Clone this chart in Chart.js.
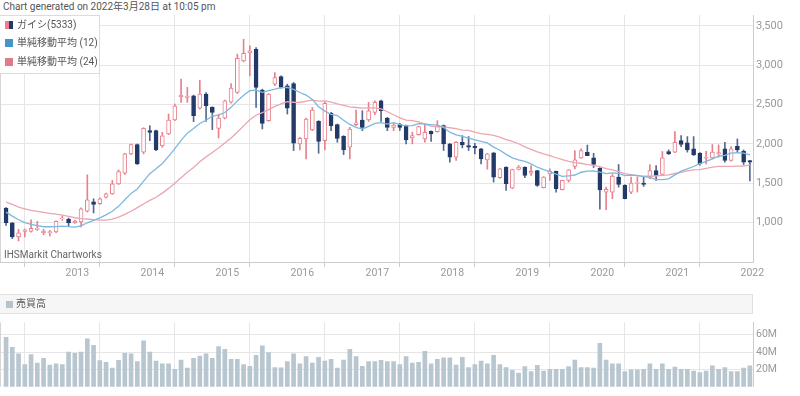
<!DOCTYPE html>
<html>
<head>
<meta charset="utf-8">
<script src="https://cdn.jsdelivr.net/npm/chart.js@4.4.0/dist/chart.umd.min.js"></script>
<style>
  body { margin: 0; width: 800px; height: 396px; overflow: hidden; background: #fff; position: relative;
         font-family: Roboto, "Noto Sans CJK JP", sans-serif; color: #555; }
  #title { position: absolute; left: 3px; top: 0; font-size: 10px; line-height: 13px; color: #555; }
  #mainBox { position: absolute; left: 0; top: 0; width: 800px; height: 290px; }
  #volBox { position: absolute; left: 0; top: 313px; width: 800px; height: 83px; }
  #legend { position: absolute; left: 0; top: 15px; width: 99px; height: 57px; background: rgba(255,255,255,0.94);
            border: 1px solid #dcdcdc; border-left: none; font-size: 10px; color: #555; }
  #legend .row { position: absolute; left: 5px; height: 12px; line-height: 12px; white-space: nowrap; }
  #legend .ico { display: inline-block; width: 8px; height: 8px; vertical-align: -1px; margin-right: 4px; }
  #credit { position: absolute; left: 4px; top: 249px; font-size: 10px; line-height: 12px; color: #666; }
  #volHead { position: absolute; left: 0; top: 294px; width: 752px; height: 18px; background: #f6f6f6;
             border: 1px solid #e0e0e0; border-left: none; font-size: 10px; color: #555; }
  #volHead .ico { position: absolute; left: 6px; top: 6px; width: 7px; height: 7px; background: #b5c3cd; }
  #volHead span.t { position: absolute; left: 16px; top: 3px; line-height: 12px; }
</style>
</head>
<body>
<div id="title">Chart generated on 2022年3月28日 at 10:05 pm</div>
<div id="mainBox"><canvas id="mainChart" width="800" height="290"></canvas></div>
<div id="legend">
  <div class="row" style="top:3px"><span class="ico" style="width:4px;background:#e8808e;margin-right:0"></span><span class="ico" style="width:4px;background:#233a68"></span>ガイシ(5333)</div>
  <div class="row" style="top:21px"><span class="ico" style="background:#4596c8"></span>単純移動平均 (12)</div>
  <div class="row" style="top:40px"><span class="ico" style="background:#e07b8c"></span>単純移動平均 (24)</div>
</div>
<div id="credit">IHSMarkit Chartworks</div>
<div id="volHead"><div class="ico"></div><span class="t">売買高</span></div>
<div id="volBox"><canvas id="volChart" width="800" height="83"></canvas></div>

<script>
// monthly candles, Apr 2012 .. Mar 2022
const startYear = 2012;
const startMonth = 4;

const opens = [1185, 999, 818, 889, 889, 915, 868, 872, 881, 1050, 1046, 995,
  1008, 1147, 1265, 1240, 1324, 1366, 1493, 1628, 1873, 1991, 1894, 2168,
  2168, 1974, 2126, 2303, 2598, 2590, 2611, 2455, 2632, 2463, 2198, 2328,
  2531, 2653, 3054, 3155, 3202, 2683, 2295, 2759, 2856, 2738, 2767, 1999,
  2063, 2176, 2286, 2041, 2387, 2244, 2096, 1957, 2244, 2303, 2303, 2400,
  2548, 2328, 2210, 2244, 2232, 2076, 2118, 2063, 2160, 2156, 2232, 2000,
  1831, 2021, 1979, 1970, 1937, 1797, 1886, 1570, 1705, 1439, 1675, 1705,
  1629, 1662, 1443, 1620, 1650, 1418, 1536, 1713, 1823, 1893, 1823, 1690,
  1388, 1388, 1578, 1477, 1388, 1498, 1502, 1578, 1662, 1612, 1903, 1895,
  2042, 2013, 1937, 1882, 1818, 1823, 1873, 1937, 1789, 1970, 1907, 1789];

const highs = [1190, 1000, 915, 919, 1037, 1016, 915, 902, 1024, 1088, 1058, 1030,
  1189, 1607, 1303, 1316, 1375, 1535, 1670, 1881, 1999, 1999, 2206, 2231,
  2176, 2147, 2379, 2506, 2822, 2717, 2620, 2809, 2653, 2472, 2379, 2556,
  2767, 3139, 3329, 3244, 3223, 2695, 2640, 2907, 2864, 2759, 2780, 2084,
  2328, 2463, 2295, 2527, 2400, 2252, 2105, 2210, 2430, 2421, 2527, 2548,
  2556, 2337, 2261, 2260, 2240, 2148, 2225, 2253, 2165, 2295, 2240, 2005,
  2030, 2105, 2093, 2008, 1945, 1880, 1890, 1690, 1710, 1680, 1726, 1710,
  1726, 1665, 1585, 1683, 1655, 1540, 1675, 1916, 1937, 1985, 1880, 1700,
  1451, 1612, 1738, 1480, 1578, 1578, 1578, 1738, 1726, 1903, 1924, 2156,
  2105, 2093, 2093, 1890, 1907, 1992, 1987, 2021, 1966, 2063, 1924, 1790];

const lows = [965, 797, 767, 818, 880, 902, 847, 830, 872, 1029, 953, 990,
  944, 1134, 1122, 1231, 1312, 1358, 1484, 1611, 1864, 1738, 1873, 2041,
  1915, 1957, 2117, 2295, 2527, 2527, 2282, 2442, 2286, 2181, 2075, 2316,
  2518, 2640, 3042, 2864, 2463, 2189, 2286, 2738, 2708, 2379, 1915, 1923,
  1809, 2168, 1881, 1923, 2168, 2021, 1864, 1809, 2231, 2168, 2286, 2371,
  2286, 2168, 2168, 2170, 2000, 2000, 2110, 2021, 2030, 2148, 1916, 1768,
  1789, 1949, 1916, 1873, 1747, 1679, 1515, 1560, 1409, 1430, 1670, 1570,
  1599, 1460, 1440, 1536, 1388, 1415, 1515, 1683, 1815, 1850, 1700, 1170,
  1164, 1304, 1451, 1300, 1367, 1388, 1460, 1557, 1536, 1599, 1865, 1890,
  1966, 1895, 1852, 1730, 1747, 1810, 1831, 1768, 1780, 1895, 1738, 1530];

const closes = [999, 818, 872, 910, 927, 932, 894, 885, 1016, 1058, 999, 1020,
  1176, 1290, 1231, 1303, 1366, 1493, 1649, 1873, 1991, 1746, 2197, 2147,
  1923, 2101, 2303, 2480, 2619, 2607, 2358, 2632, 2484, 2400, 2328, 2548,
  2708, 3088, 3151, 3181, 2717, 2261, 2632, 2843, 2717, 2455, 2008, 2071,
  2316, 2430, 2033, 2514, 2231, 2071, 1923, 2189, 2269, 2210, 2421, 2527,
  2421, 2210, 2240, 2210, 2051, 2106, 2219, 2148, 2127, 2224, 2000, 1831,
  2021, 1987, 1958, 1949, 1810, 1873, 1578, 1683, 1494, 1675, 1705, 1599,
  1650, 1472, 1578, 1650, 1430, 1536, 1671, 1797, 1916, 1852, 1740, 1415,
  1422, 1591, 1485, 1304, 1502, 1510, 1485, 1662, 1599, 1823, 1873, 2021,
  1992, 1924, 1861, 1747, 1831, 1895, 1890, 1789, 1937, 1924, 1768, 1768];

const sma12 = [1134, 1083, 1037, 999, 978, 961, 948, 948, 950, 955, 950, 944,
  959, 998, 1028, 1061, 1098, 1144, 1207, 1290, 1371, 1428, 1528, 1622,
  1684, 1752, 1841, 1939, 2044, 2136, 2195, 2259, 2300, 2354, 2365, 2399,
  2464, 2546, 2617, 2675, 2684, 2655, 2678, 2695, 2715, 2719, 2692, 2653,
  2620, 2565, 2472, 2416, 2376, 2360, 2301, 2247, 2209, 2189, 2223, 2261,
  2270, 2252, 2269, 2244, 2229, 2231, 2256, 2253, 2241, 2242, 2207, 2149,
  2116, 2097, 2074, 2052, 2032, 2012, 1959, 1920, 1867, 1822, 1797, 1778,
  1747, 1704, 1672, 1647, 1616, 1588, 1595, 1605, 1640, 1655, 1658, 1642,
  1623, 1633, 1625, 1597, 1603, 1600, 1585, 1574, 1547, 1545, 1556, 1606,
  1654, 1682, 1713, 1750, 1777, 1809, 1843, 1854, 1882, 1890, 1882, 1861];

const sma24 = [1261, 1231, 1197, 1176, 1155, 1143, 1130, 1117, 1109, 1096, 1079, 1062,
  1050, 1046, 1037, 1033, 1033, 1045, 1070, 1105, 1145, 1190, 1237, 1283,
  1322, 1375, 1435, 1500, 1571, 1640, 1701, 1774, 1835, 1891, 1947, 2010,
  2074, 2149, 2229, 2307, 2364, 2396, 2436, 2477, 2507, 2537, 2529, 2526,
  2542, 2556, 2544, 2546, 2530, 2507, 2489, 2471, 2462, 2454, 2458, 2457,
  2445, 2408, 2370, 2330, 2302, 2296, 2279, 2250, 2225, 2215, 2215, 2205,
  2193, 2174, 2171, 2148, 2130, 2122, 2107, 2086, 2054, 2032, 2002, 1963,
  1931, 1900, 1873, 1850, 1824, 1800, 1777, 1762, 1754, 1738, 1727, 1710,
  1685, 1669, 1649, 1622, 1609, 1594, 1590, 1589, 1594, 1600, 1607, 1624,
  1639, 1657, 1669, 1673, 1690, 1705, 1714, 1714, 1715, 1718, 1719, 1733];

// 売買高, millions of shares
const volumes = [57.0, 45.6, 38.0, 25.7, 37.1, 27.2, 32.7, 25.0, 26.6, 25.7, 40.1, 38.6,
  40.1, 55.5, 47.8, 30.3, 28.1, 21.4, 30.6, 38.6, 38.0, 29.1, 53.0, 40.1,
  29.7, 26.6, 26.6, 20.1, 30.9, 21.4, 32.7, 35.5, 38.0, 32.7, 46.3, 43.2,
  31.8, 31.8, 25.7, 23.5, 36.4, 47.2, 39.5, 22.0, 21.7, 29.1, 38.0, 26.6,
  34.8, 27.2, 33.9, 29.7, 31.8, 21.4, 30.9, 43.2, 34.8, 23.5, 29.1, 29.1,
  30.6, 29.1, 29.1, 25.5, 34.8, 27.2, 28.1, 41.0, 26.6, 31.8, 33.3, 33.3,
  25.0, 33.9, 22.0, 25.7, 29.7, 26.6, 36.4, 25.7, 22.0, 18.9, 15.8, 23.2,
  17.4, 24.7, 18.0, 20.1, 20.1, 20.1, 23.2, 30.9, 22.0, 22.0, 21.4, 50.2,
  30.9, 26.6, 26.6, 17.4, 19.5, 19.5, 20.1, 26.6, 20.1, 26.6, 20.1, 22.6,
  20.1, 20.1, 18.0, 16.4, 18.0, 24.1, 20.1, 22.0, 17.4, 17.4, 21.4, 24.1];

const priceTicks = [1000, 1500, 2000, 2500, 3000, 3500];
const volumeTicks = [20, 40, 60];

// month labels like 2012-04
const months = [];
for (let i = 0; i < closes.length; i++) {
    const m = startMonth - 1 + i;
    const y = startYear + Math.floor(m / 12);
    months.push(y + '-' + String(m % 12 + 1).padStart(2, '0'));
}
const yearStarts = [];
months.forEach((m, i) => { if (m.endsWith('-01')) yearStarts.push(i); });

const PINK = '#e8808e';
const NAVY = '#233a68';
const NAVY_WICK = '#55698f';
const GRID = '#e6e6e6';
const AXIS = '#cccccc';
const FONT = 'Roboto, "Noto Sans CJK JP", sans-serif';

const xMin = -0.97;
const xMax = 119.5;

const isUp = closes.map((c, i) => c >= opens[i]);

const leftEdge = {
    id: 'leftEdge',
    afterDraw(chart) {
        const { ctx, chartArea } = chart;
        ctx.save();
        ctx.strokeStyle = '#d6d6d6';
        ctx.lineWidth = 1;
        ctx.beginPath();
        ctx.moveTo(chartArea.left + 0.5, chartArea.top);
        ctx.lineTo(chartArea.left + 0.5, chartArea.bottom);
        ctx.stroke();
        ctx.restore();
    }
};

function xScale(showLabels) {
    return {
        type: 'linear',
        min: xMin,
        max: xMax,
        offset: false,
        afterBuildTicks: s => { s.ticks = yearStarts.map(v => ({ value: v })); },
        afterFit: s => { s.height = showLabels ? 28 : 0; },
        grid: { color: GRID, tickColor: AXIS, tickLength: 5, drawTicks: showLabels },
        border: { display: showLabels, color: AXIS },
        ticks: {
            display: showLabels,
            autoSkip: false,
            maxRotation: 0,
            labelOffset: 15,
            padding: 0,
            color: '#999',
            font: { size: 10.5, family: FONT },
            callback: v => months[v] ? months[v].slice(0, 4) : ''
        }
    };
}

Chart.defaults.font.family = FONT;

new Chart(document.getElementById('mainChart').getContext('2d'), {
    type: 'bar',
    data: {
        datasets: [
            {
                type: 'line',
                label: '単純移動平均 (12)',
                data: sma12.map((v, i) => ({ x: i, y: v })),
                borderColor: '#7db8de',
                borderWidth: 1.3,
                pointRadius: 0,
                fill: false,
                order: 0
            },
            {
                type: 'line',
                label: '単純移動平均 (24)',
                data: sma24.map((v, i) => ({ x: i, y: v })),
                borderColor: '#eba6af',
                borderWidth: 1.3,
                pointRadius: 0,
                fill: false,
                order: 0
            },
            {
                label: 'body',
                data: opens.map((o, i) => ({ x: i, y: [o, closes[i]] })),
                backgroundColor: ctx => isUp[ctx.dataIndex] ? '#ffffff' : NAVY,
                borderColor: ctx => isUp[ctx.dataIndex] ? PINK : NAVY,
                borderWidth: 1,
                borderSkipped: false,
                barThickness: 4,
                grouped: false,
                order: 1
            },
            {
                label: 'wick',
                data: lows.map((l, i) => ({ x: i, y: [l, highs[i]] })),
                backgroundColor: ctx => isUp[ctx.dataIndex] ? PINK : NAVY_WICK,
                barThickness: 1,
                grouped: false,
                order: 2
            }
        ]
    },
    options: {
        responsive: false,
        animation: false,
        layout: { padding: { left: 0, right: 0, top: 15, bottom: 0 } },
        plugins: { legend: { display: false }, tooltip: { enabled: false } },
        scales: {
            x: xScale(true),
            y: {
                position: 'right',
                min: 500,
                max: 3637,
                afterBuildTicks: s => { s.ticks = priceTicks.map(v => ({ value: v })); },
                afterFit: s => { s.width = 47; },
                grid: { color: GRID, drawTicks: false },
                border: { color: AXIS },
                ticks: {
                    padding: 3,
                    color: '#999',
                    font: { size: 11, family: FONT },
                    callback: v => v.toLocaleString('en-US')
                }
            }
        }
    },
    plugins: [leftEdge]
});

new Chart(document.getElementById('volChart').getContext('2d'), {
    type: 'bar',
    data: {
        datasets: [{
            label: '売買高',
            data: volumes.map((v, i) => ({ x: i, y: v })),
            backgroundColor: '#b8c6d0',
            barThickness: 4,
            grouped: false
        }]
    },
    options: {
        responsive: false,
        animation: false,
        layout: { padding: { left: 0, right: 0, top: 0, bottom: 1 } },
        plugins: { legend: { display: false }, tooltip: { enabled: false } },
        scales: {
            x: xScale(false),
            y: {
                position: 'right',
                min: 0,
                max: 74.5,
                afterBuildTicks: s => { s.ticks = volumeTicks.map(v => ({ value: v })); },
                afterFit: s => { s.width = 47; },
                grid: { color: GRID, drawTicks: false },
                border: { color: AXIS },
                ticks: {
                    padding: 3,
                    color: '#999',
                    font: { size: 10.5, family: FONT },
                    callback: v => v + 'M'
                }
            }
        }
    },
    plugins: [leftEdge]
});
</script>
</body>
</html>
